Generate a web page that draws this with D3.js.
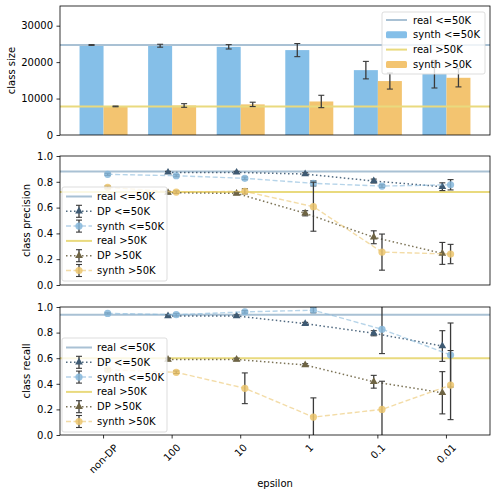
<!DOCTYPE html>
<html>
<head>
<meta charset="utf-8">
<script src="https://cdn.jsdelivr.net/npm/d3@7"></script>
<style>
  body { margin: 0; background: #fff; }
  svg { font-family: "DejaVu Sans", sans-serif; }
</style>
</head>
<body>
<svg id="chart"></svg>
<script>
// epsilon categories along the shared x axis
const categories = ["non-DP", "100", "10", "1", "0.1", "0.01"];

// class size panel
const realSize = [24720, 7841];
const synthSizeLow = [24700, 24500, 24200, 23300, 17800, 16700];
const synthSizeLowErr = [100, 400, 600, 1800, 2400, 3800];
const synthSizeHigh = [7850, 8100, 8400, 9200, 14800, 15700];
const synthSizeHighErr = [100, 500, 600, 1700, 2200, 2500];

// class precision panel (DP has no value for non-DP)
const realPrecision = [0.88, 0.72];
const dpPrecLow = [null, 0.873, 0.873, 0.86, 0.806, 0.762];
const dpPrecLowErr = [null, 0.008, 0.008, 0.01, 0.015, 0.03];
const synthPrecLow = [0.858, 0.847, 0.827, 0.788, 0.767, 0.777];
const synthPrecLowErr = [0.008, 0.008, 0.01, 0.02, 0.01, 0.04];
const dpPrecHigh = [null, 0.716, 0.71, 0.556, 0.37, 0.245];
const dpPrecHighErr = [null, 0.01, 0.01, 0.02, 0.05, 0.085];
const synthPrecHigh = [0.757, 0.72, 0.726, 0.607, 0.255, 0.24];
const synthPrecHighErr = [0.01, 0.01, 0.02, 0.19, 0.14, 0.075];

// class recall panel
const realRecall = [0.94, 0.6];
const dpRecLow = [null, 0.93, 0.93, 0.87, 0.795, 0.695];
const dpRecLowErr = [null, 0.008, 0.008, 0.01, 0.02, 0.12];
const synthRecLow = [0.95, 0.94, 0.962, 0.975, 0.826, 0.625];
const synthRecLowErr = [0.005, 0.01, 0.01, 0.02, 0.19, 0.25];
const dpRecHigh = [null, 0.59, 0.59, 0.547, 0.416, 0.33];
const dpRecHighErr = [null, 0.01, 0.01, 0.01, 0.05, 0.165];
const synthRecHigh = [0.51, 0.49, 0.365, 0.14, 0.2, 0.39];
const synthRecHighErr = [0.01, 0.01, 0.12, 0.15, 0.22, 0.27];

const sizeTicks = [0, 10000, 20000, 30000];
const rateTicks = [0, 0.2, 0.4, 0.6, 0.8, 1.0];

const width = 496, height = 496;
const colorRealLow = "#a9c1d4";
const colorRealHigh = "#e9da7e";
const colorBarLow = "#85bfe8";
const colorBarHigh = "#f3c470";
const colorSynthLow = "#86b7da";
const colorSynthHigh = "#ebc46c";
const colorDpLow = "#3e5a73";
const colorDpHigh = "#6e6444";
const colorErr = "#3a3a3a";

const svg = d3.select("#chart").attr("width", width).attr("height", height);

const x = d3.scaleLinear().domain([-0.635, 5.635]).range([60, 490]);
const panels = [
  { top: 6, bottom: 135 },
  { top: 156, bottom: 285 },
  { top: 307, bottom: 435 },
];

function addClip(id, p) {
  svg.append("clipPath").attr("id", id)
    .append("rect")
    .attr("x", x.range()[0]).attr("y", p.top)
    .attr("width", x.range()[1] - x.range()[0])
    .attr("height", p.bottom - p.top);
}

function drawYAxis(p, y, ticks, fmt, label, labelX) {
  const ax = svg.append("g")
    .attr("transform", `translate(${x.range()[0]},0)`)
    .call(d3.axisLeft(y).tickValues(ticks).tickSize(3.5).tickPadding(3.5).tickFormat(fmt));
  ax.select(".domain").remove();
  ax.attr("font-family", "DejaVu Sans, sans-serif").attr("font-size", 10);
  ax.selectAll("text").attr("fill", "#000");
  ax.selectAll("line").attr("stroke", "#000").attr("stroke-width", 0.8);

  svg.append("text")
    .attr("transform", `translate(${labelX},${(p.top + p.bottom) / 2}) rotate(-90)`)
    .attr("text-anchor", "middle")
    .attr("font-size", 10)
    .text(label);
}

function drawFrame(p) {
  svg.append("rect")
    .attr("x", x.range()[0]).attr("y", p.top)
    .attr("width", x.range()[1] - x.range()[0])
    .attr("height", p.bottom - p.top)
    .attr("fill", "none")
    .attr("stroke", "#000")
    .attr("stroke-width", 0.8);
}

function errorBar(g, cx, y, v, e) {
  const y0 = y(v - e), y1 = y(v + e);
  g.append("line").attr("x1", cx).attr("x2", cx).attr("y1", y0).attr("y2", y1)
    .attr("stroke", colorErr).attr("stroke-width", 1.3);
  [y0, y1].forEach((yy) => {
    g.append("line").attr("x1", cx - 3).attr("x2", cx + 3).attr("y1", yy).attr("y2", yy)
      .attr("stroke", colorErr).attr("stroke-width", 1.1);
  });
}

function triangle(g, cx, cy, color) {
  g.append("path")
    .attr("d", d3.symbol().type(d3.symbolTriangle).size(26)())
    .attr("transform", `translate(${cx},${cy})`)
    .attr("fill", color);
}

function circle(g, cx, cy, color) {
  g.append("circle").attr("cx", cx).attr("cy", cy).attr("r", 3.6)
    .attr("fill", color).attr("opacity", 0.85);
}

function legendBox(lx, ly, w, h) {
  return svg.append("rect").attr("x", lx).attr("y", ly).attr("width", w).attr("height", h)
    .attr("rx", 2).attr("fill", "#fff").attr("fill-opacity", 0.8)
    .attr("stroke", "#d4d4d4").attr("stroke-width", 0.8);
}

// ---------- panel 1: class size ----------
(function () {
  const p = panels[0];
  const y = d3.scaleLinear().domain([0, 35400]).range([p.bottom, p.top]);
  addClip("clip0", p);
  const g = svg.append("g").attr("clip-path", "url(#clip0)");
  const bw = x(0.35) - x(0);

  g.selectAll("rect.low").data(synthSizeLow).enter().append("rect")
    .attr("x", (d, i) => x(i - 0.35)).attr("width", bw)
    .attr("y", (d) => y(d)).attr("height", (d) => y(0) - y(d))
    .attr("fill", colorBarLow);
  g.selectAll("rect.high").data(synthSizeHigh).enter().append("rect")
    .attr("x", (d, i) => x(i)).attr("width", bw)
    .attr("y", (d) => y(d)).attr("height", (d) => y(0) - y(d))
    .attr("fill", colorBarHigh);

  g.append("line").attr("x1", x.range()[0]).attr("x2", x.range()[1])
    .attr("y1", y(realSize[0])).attr("y2", y(realSize[0]))
    .attr("stroke", colorRealLow).attr("stroke-width", 2);
  g.append("line").attr("x1", x.range()[0]).attr("x2", x.range()[1])
    .attr("y1", y(realSize[1])).attr("y2", y(realSize[1]))
    .attr("stroke", colorRealHigh).attr("stroke-width", 2);

  synthSizeLow.forEach((v, i) => errorBar(g, x(i - 0.175), y, v, synthSizeLowErr[i]));
  synthSizeHigh.forEach((v, i) => errorBar(g, x(i + 0.175), y, v, synthSizeHighErr[i]));

  drawFrame(p);
  drawYAxis(p, y, sizeTicks, d3.format("d"), "class size", 15);

  // legend
  legendBox(382, 12, 103, 62);
  const items = [
    { label: "real <=50K", type: "line", color: colorRealLow },
    { label: "synth <=50K", type: "bar", color: colorBarLow },
    { label: "real >50K", type: "line", color: colorRealHigh },
    { label: "synth >50K", type: "bar", color: colorBarHigh },
  ];
  items.forEach((it, k) => {
    const yy = 20 + k * 14.8;
    if (it.type === "line") {
      svg.append("line").attr("x1", 386).attr("x2", 407).attr("y1", yy).attr("y2", yy)
        .attr("stroke", it.color).attr("stroke-width", 2);
    } else {
      svg.append("rect").attr("x", 386).attr("y", yy - 3.5).attr("width", 21).attr("height", 7)
        .attr("rx", 1.5).attr("fill", it.color);
    }
    svg.append("text").attr("x", 413).attr("y", yy).attr("dy", "0.35em")
      .attr("font-size", 10).text(it.label);
  });
})();

// ---------- panels 2 and 3: precision / recall ----------
function drawRatePanel(idx, label, labelX, real, series, legendTop) {
  const p = panels[idx];
  const y = d3.scaleLinear().domain([0, 1]).range([p.bottom, p.top]);
  addClip("clip" + idx, p);
  const g = svg.append("g").attr("clip-path", `url(#clip${idx})`);

  g.append("line").attr("x1", x.range()[0]).attr("x2", x.range()[1])
    .attr("y1", y(real[0])).attr("y2", y(real[0]))
    .attr("stroke", colorRealLow).attr("stroke-width", 2);
  g.append("line").attr("x1", x.range()[0]).attr("x2", x.range()[1])
    .attr("y1", y(real[1])).attr("y2", y(real[1]))
    .attr("stroke", colorRealHigh).attr("stroke-width", 2);

  series.forEach((s) => {
    const pts = s.values.map((v, i) => ({ i, v, e: s.errs[i] })).filter((d) => d.v !== null);
    const line = d3.line().x((d) => x(d.i + s.offset)).y((d) => y(d.v));
    g.append("path").datum(pts).attr("d", line)
      .attr("fill", "none").attr("stroke", s.color)
      .attr("stroke-width", s.dp ? 1.5 : 1.4)
      .attr("stroke-dasharray", s.dp ? "1.5,2.5" : "5,2.5")
      .attr("opacity", s.dp ? 0.9 : 0.6);
    pts.forEach((d) => errorBar(g, x(d.i + s.offset), y, d.v, d.e));
    pts.forEach((d) => {
      if (s.dp) triangle(g, x(d.i + s.offset), y(d.v), s.color);
      else circle(g, x(d.i + s.offset), y(d.v), s.color);
    });
  });

  drawFrame(p);
  drawYAxis(p, y, rateTicks, d3.format(".1f"), label, labelX);

  // legend
  legendBox(62, legendTop, 105, 94);
  const items = [
    { label: "real <=50K", type: "real", color: colorRealLow },
    { label: "DP <=50K", type: "dp", color: colorDpLow },
    { label: "synth <=50K", type: "synth", color: colorSynthLow },
    { label: "real >50K", type: "real", color: colorRealHigh },
    { label: "DP >50K", type: "dp", color: colorDpHigh },
    { label: "synth >50K", type: "synth", color: colorSynthHigh },
  ];
  items.forEach((it, k) => {
    const yy = legendTop + 9.5 + k * 14.8;
    if (it.type === "real") {
      svg.append("line").attr("x1", 66).attr("x2", 92).attr("y1", yy).attr("y2", yy)
        .attr("stroke", it.color).attr("stroke-width", 2);
    } else {
      svg.append("line").attr("x1", 66).attr("x2", 92).attr("y1", yy).attr("y2", yy)
        .attr("stroke", it.color).attr("stroke-width", 1.5)
        .attr("stroke-dasharray", it.type === "dp" ? "1.5,2.5" : "5,2.5")
        .attr("opacity", it.type === "dp" ? 0.9 : 0.6);
      const ly = d3.scaleLinear().domain([0, 1]).range([yy + 6, yy - 6]);
      errorBar(svg, 79, ly, 0.5, 0.5);
      if (it.type === "dp") triangle(svg, 79, yy, it.color);
      else circle(svg, 79, yy, it.color);
    }
    svg.append("text").attr("x", 97).attr("y", yy).attr("dy", "0.35em")
      .attr("font-size", 10).text(it.label);
  });
}

drawRatePanel(1, "class precision", 30, realPrecision, [
  { values: dpPrecLow, errs: dpPrecLowErr, color: colorDpLow, dp: true, offset: -0.06 },
  { values: synthPrecLow, errs: synthPrecLowErr, color: colorSynthLow, dp: false, offset: 0.06 },
  { values: dpPrecHigh, errs: dpPrecHighErr, color: colorDpHigh, dp: true, offset: -0.06 },
  { values: synthPrecHigh, errs: synthPrecHighErr, color: colorSynthHigh, dp: false, offset: 0.06 },
], 187);

drawRatePanel(2, "class recall", 30, realRecall, [
  { values: dpRecLow, errs: dpRecLowErr, color: colorDpLow, dp: true, offset: -0.06 },
  { values: synthRecLow, errs: synthRecLowErr, color: colorSynthLow, dp: false, offset: 0.06 },
  { values: dpRecHigh, errs: dpRecHighErr, color: colorDpHigh, dp: true, offset: -0.06 },
  { values: synthRecHigh, errs: synthRecHighErr, color: colorSynthHigh, dp: false, offset: 0.06 },
], 338);

// ---------- shared x axis (bottom panel only) ----------
const bottom = panels[2].bottom;
const xt = svg.append("g");
categories.forEach((c, i) => {
  xt.append("line").attr("x1", x(i)).attr("x2", x(i)).attr("y1", bottom).attr("y2", bottom + 3.5)
    .attr("stroke", "#000").attr("stroke-width", 0.8);
  const t = xt.append("text").attr("font-size", 10).attr("text-anchor", "middle")
    .attr("dy", "0.35em").text(c);
  const w = t.node().getComputedTextLength();
  const boxH = (w + 11) * Math.SQRT1_2;
  const cy = bottom + 7 + boxH / 2;
  t.attr("transform", `translate(${x(i)},${cy}) rotate(-45)`);
});

svg.append("text").attr("x", (x.range()[0] + x.range()[1]) / 2).attr("y", 487)
  .attr("text-anchor", "middle").attr("font-size", 10).text("epsilon");
</script>
</body>
</html>
